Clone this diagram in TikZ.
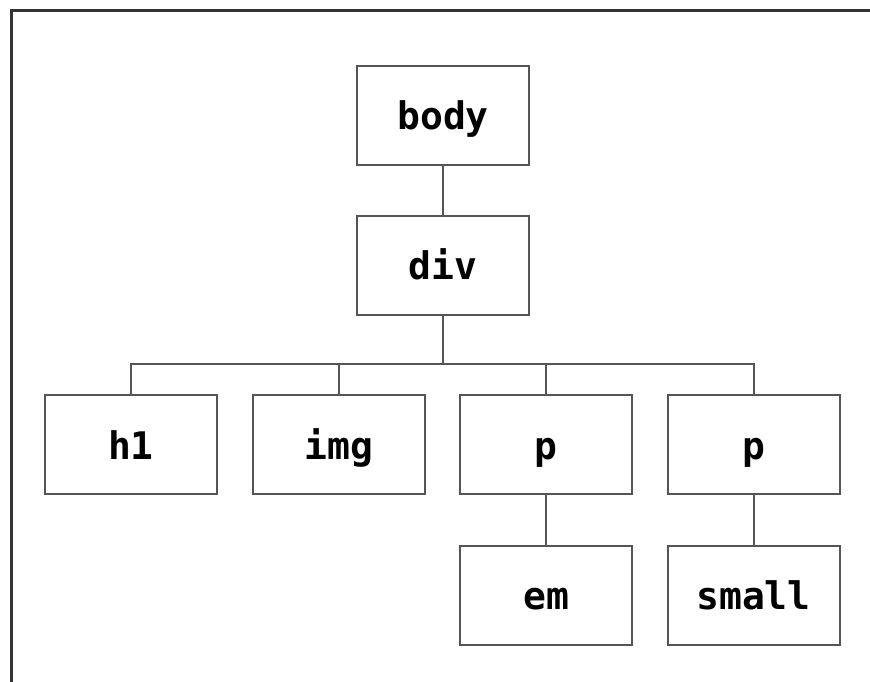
\documentclass[tikz,border=0pt]{standalone}
\usepackage{fontspec}
\setmonofont{DejaVu Sans Mono}
\definecolor{boxline}{HTML}{555555}
\definecolor{frameline}{HTML}{333333}
\begin{document}
\begin{tikzpicture}[x=1pt,y=-1pt,
  tag/.style={draw=boxline, line width=2pt, minimum width=172pt, minimum height=99pt,
    inner sep=0pt, font=\ttfamily\bfseries\fontsize{38}{40}\selectfont,
    text height=32pt, text depth=3pt},
  link/.style={draw=boxline, line width=2pt}]
\useasboundingbox (0,0) rectangle (870,682);
\clip (0,0) rectangle (870,682);
\fill[white] (0,0) rectangle (870,682);
\draw[frameline, line width=3pt] (11.5,10.5) rectangle (900,720);
\node[tag] (body) at (443,115.5) {body};
\node[tag] (div) at (443,265) {div};
\node[tag] (h1) at (131,444.5) {h1};
\node[tag] (img) at (339,444.5) {img};
\node[tag] (p1) at (546,444.5) {p};
\node[tag] (p2) at (753.5,444.5) {p};
\node[tag] (em) at (546,595) {em};
\node[tag] (small) at (753.5,595) {small};
\draw[link] (body.south) -- (div.north);
\draw[link] (div.south) -- ++(0,48) coordinate (bus);
\draw[link] (h1.north) -- (h1.north |- bus) -- (p2.north |- bus) -- (p2.north);
\draw[link] (img.north) -- (img.north |- bus);
\draw[link] (p1.north) -- (p1.north |- bus);
\draw[link] (p1.south) -- (em.north);
\draw[link] (p2.south) -- (small.north);
\end{tikzpicture}
\end{document}
